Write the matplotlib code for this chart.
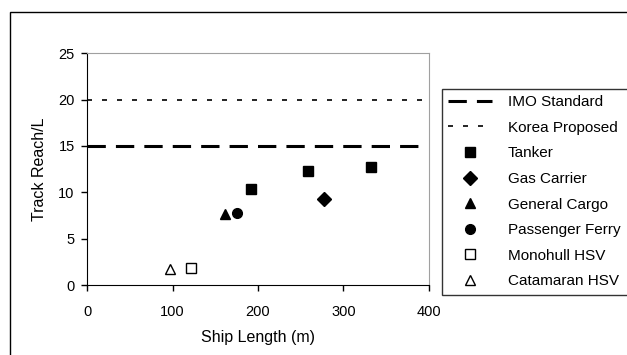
import matplotlib.pyplot as plt
from matplotlib.patches import Rectangle

plt.rcParams['font.family'] = ['Liberation Sans', 'DejaVu Sans']

# data
line_x = [0, 392]
imo_y = [15, 15]
korea_y = [20, 20]

tanker_x = [192, 258, 332]
tanker_y = [10.4, 12.3, 12.7]
gas_x = [277]
gas_y = [9.3]
cargo_x = [161]
cargo_y = [7.7]
ferry_x = [175]
ferry_y = [7.8]
mono_x = [121]
mono_y = [1.85]
cat_x = [97]
cat_y = [1.75]

fig = plt.figure(figsize=(6.27, 3.55), dpi=100)
fig.patches.append(Rectangle((10 / 627, -0.01), 1, 1.01 - 12 / 355, transform=fig.transFigure,
                             fill=False, edgecolor="black", linewidth=1.0))

ax = fig.add_axes([0.139, 0.197, 0.545, 0.653])

ax.plot(line_x, imo_y, color="black", lw=2.2, dashes=(6, 3.3), label="IMO Standard")
ax.plot(line_x, korea_y, color="black", lw=1.2, dashes=(3, 6), label="Korea Proposed")
ms = 7
ax.plot(tanker_x, tanker_y, "s", color="black", ms=ms - 0.3, ls="none", label="Tanker")
ax.plot(gas_x, gas_y, "D", color="black", ms=ms - 0.3, ls="none", label="Gas Carrier")
ax.plot(cargo_x, cargo_y, "^", color="black", ms=ms + 0.5, ls="none", label="General Cargo")
ax.plot(ferry_x, ferry_y, "o", color="black", ms=ms, ls="none", label="Passenger Ferry")
ax.plot(mono_x, mono_y, "s", mfc="white", mec="black", mew=1, ms=ms - 0.5, ls="none", label="Monohull HSV")
ax.plot(cat_x, cat_y, "^", mfc="white", mec="black", mew=1, ms=ms, ls="none", label="Catamaran HSV")

ax.set_xlim(0, 400)
ax.set_ylim(0, 25)
ax.set_xticks([0, 100, 200, 300, 400])
ax.set_yticks([0, 5, 10, 15, 20, 25])
ax.tick_params(direction="out", length=4, width=1, labelsize=10.5)
ax.tick_params(axis="x", pad=10)
ax.tick_params(axis="y", pad=5)
for s in ["top", "right"]:
    ax.spines[s].set_color("#a0a0a0")
for s in ["left", "bottom"]:
    ax.spines[s].set_color("black")

ax.set_xlabel("Ship Length (m)", fontsize=11.5, labelpad=8)
ax.set_ylabel("Track Reach/L", fontsize=11.5, labelpad=8)

leg = fig.legend(loc="upper left", bbox_to_anchor=(442 / 627, 1 - 89 / 355, 0.4, 0), mode="expand",
                 fontsize=11, frameon=True, fancybox=False, edgecolor="black", handlelength=2.9,
                 handletextpad=1.0, labelspacing=0.76, borderaxespad=0, borderpad=0.4,
                 numpoints=1)
leg.get_frame().set_linewidth(1.0)

fig.savefig("out.png", dpi=100)
